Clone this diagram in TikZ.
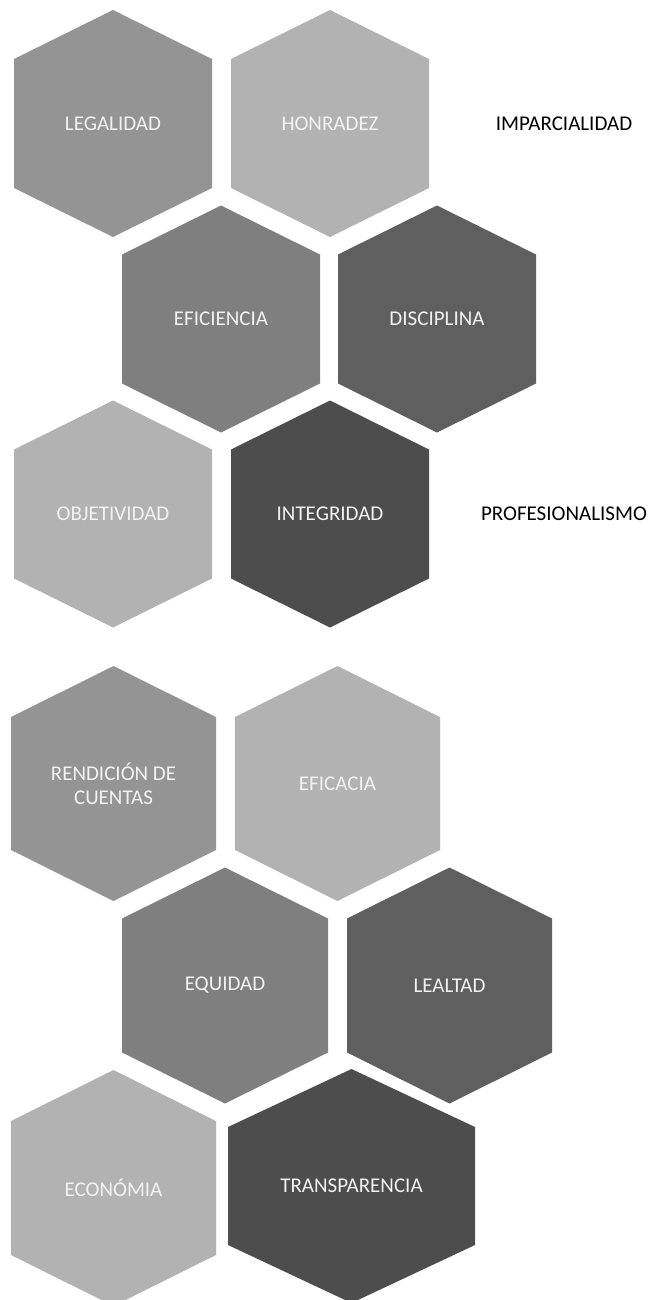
\documentclass[tikz,border=0pt]{standalone}
\usepackage{fontspec}
\setmainfont{Carlito}
\definecolor{gA}{HTML}{949494}
\definecolor{gB}{HTML}{B2B2B2}
\definecolor{gC}{HTML}{7F7F7F}
\definecolor{gD}{HTML}{5F5F5F}
\definecolor{gE}{HTML}{4D4D4D}
\definecolor{txtlight}{HTML}{F2F2F2}
% #1 name, #2 cx, #3 cy, #4 half width, #5 top-to-side, #6 half side, #7 colour, #8 text
\newcommand\hexa[8]{%
  \fill[#7] (#2,#3-#6-#5) -- (#2+#4,#3-#6) -- (#2+#4,#3+#6) -- (#2,#3+#6+#5)
    -- (#2-#4,#3+#6) -- (#2-#4,#3-#6) -- cycle;
  \node[hexlabel] (#1) at (#2,#3) {#8};}
\begin{document}
\begin{tikzpicture}[x=1pt,y=-1pt,
  hexlabel/.style={text=txtlight,font=\fontsize{21}{24}\selectfont,align=center,inner sep=0pt},
  sidelabel/.style={text=black,font=\fontsize{21}{24}\selectfont,inner sep=0pt}]
\useasboundingbox (0,0) rectangle (652,1300);
% group 1
\hexa{legalidad}{113}{123.5}{99}{49}{64.5}{gA}{LEGALIDAD}
\hexa{honradez}{330}{123.5}{99}{49}{64.5}{gB}{HONRADEZ}
\hexa{eficiencia}{221}{319}{99}{49}{64.5}{gC}{EFICIENCIA}
\hexa{disciplina}{437}{319}{99}{49}{64.5}{gD}{DISCIPLINA}
\hexa{objetividad}{113}{514}{99}{49}{64.5}{gB}{OBJETIVIDAD}
\hexa{integridad}{330}{514}{99}{49}{64.5}{gE}{INTEGRIDAD}
\node[sidelabel] (imparcialidad) at (564,123.5) {IMPARCIALIDAD};
\node[sidelabel] (profesionalismo) at (564,514) {PROFESIONALISMO};
% group 2
\hexa{rendicion}{113.5}{783.5}{102.5}{51}{66.5}{gA}{RENDICIÓN DE\\CUENTAS}
\hexa{eficacia}{337.5}{783.5}{102.5}{51}{66.5}{gB}{EFICACIA}
\hexa{equidad}{225}{985.5}{103}{51}{67}{gC}{EQUIDAD}
\hexa{lealtad}{449.5}{985.5}{102.5}{51}{67}{gD}{LEALTAD}
\hexa{economia}{113.5}{1188}{102.5}{51}{67}{gB}{ECONÓMIA}
\hexa{transparencia}{351.5}{1186}{123.5}{58}{59}{gE}{TRANSPARENCIA}
\end{tikzpicture}
\end{document}
